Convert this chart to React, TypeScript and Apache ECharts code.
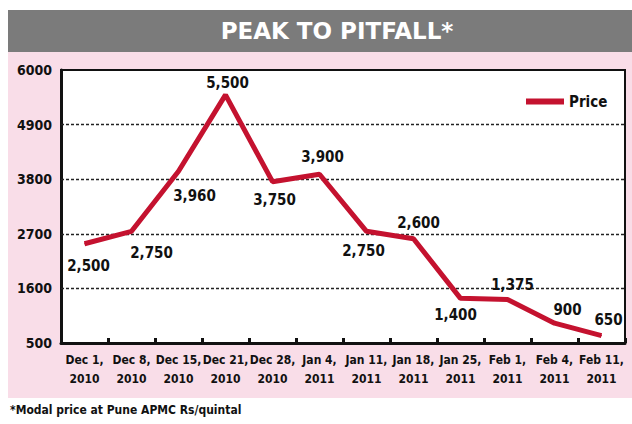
import React, { useEffect, useRef } from "react";
import * as echarts from "echarts";

const categories = [
  "Dec 1, 2010",
  "Dec 8, 2010",
  "Dec 15, 2010",
  "Dec 21, 2010",
  "Dec 28, 2010",
  "Jan 4, 2011",
  "Jan 11, 2011",
  "Jan 18, 2011",
  "Jan 25, 2011",
  "Feb 1, 2011",
  "Feb 4, 2011",
  "Feb 11, 2011",
];
const priceValues = [2500, 2750, 3960, 5500, 3750, 3900, 2750, 2600, 1400, 1375, 900, 650];
const yTickValues = [500, 1600, 2700, 3800, 4900, 6000];
const gridLineValues = [1600, 2700, 3800, 4900];
const titleText = "PEAK TO PITFALL*";
const footnoteText = "*Modal price at Pune APMC Rs/quintal";
const seriesName = "Price";

const FONT = "'DejaVu Sans Condensed', sans-serif";

// label placement per point (offsets in px)
const labelOffsets: [number, number][] = [
  [4, 22],
  [20, 22],
  [16, 25],
  [2, -12],
  [2, 18],
  [3, -17],
  [-3, 20],
  [5, -16],
  [-5, 17],
  [5, -15],
  [13, -13],
  [7, -16],
];

export default function App() {
  const ref = useRef<HTMLDivElement>(null);
  useEffect(() => {
    document.body.style.margin = "0";
    if (!ref.current) return;
    const chart = echarts.init(ref.current, undefined, { renderer: "svg" });
    const data = priceValues.map((v, i) => ({
      value: v,
      label: {
        show: true,
        position: "inside",
        offset: labelOffsets[i],
      },
    }));
    chart.setOption({
      animation: false,
      backgroundColor: "#ffffff",
      graphic: [
        {
          type: "rect",
          z: -10,
          shape: { x: 8, y: 52, width: 624, height: 346 },
          style: { fill: "#f9dde8" },
        },
        {
          type: "rect",
          z: -10,
          shape: { x: 8, y: 10, width: 624, height: 42 },
          style: { fill: "#7b7b7b" },
        },
        {
          type: "text",
          x: 337,
          y: 31,
          style: {
            text: titleText,
            fill: "#ffffff",
            font: `bold 23px 'DejaVu Sans', sans-serif`,
            align: "center",
            verticalAlign: "middle",
          },
        },
        {
          type: "text",
          x: 10,
          y: 410,
          style: {
            text: footnoteText,
            fill: "#111111",
            font: `bold 12px ${FONT}`,
            align: "left",
            verticalAlign: "middle",
          },
        },
      ],
      legend: {
        show: true,
        left: 521,
        top: 89,
        itemWidth: 38,
        itemHeight: 6,
        icon: "rect",
        itemGap: 6,
        textStyle: { fontFamily: FONT, fontSize: 15, color: "#111", fontWeight: "bold" },
        data: [seriesName],
      },
      grid: {
        left: 61,
        top: 70,
        right: 7,
        bottom: 81,
        show: true,
        backgroundColor: "#ffffff",
        borderColor: "#111111",
        borderWidth: 2,
      },
      xAxis: {
        type: "category",
        data: categories,
        boundaryGap: true,
        axisLine: { show: true, lineStyle: { color: "#111111", width: 3 } },
        axisTick: { show: true, inside: true, length: 5, lineStyle: { color: "#111111", width: 3 } },
        axisLabel: {
          interval: 0,
          fontFamily: FONT,
          fontSize: 12,
          fontWeight: "bold",
          color: "#111111",
          lineHeight: 19,
          margin: 7,
          formatter: (v: string) => v.replace(", ", ",\n"),
        },
        splitLine: { show: false },
      },
      yAxis: {
        type: "value",
        min: 500,
        max: 6000,
        axisLine: { show: true, lineStyle: { color: "#111111", width: 3 } },
        axisTick: { show: false, customValues: yTickValues },
        axisLabel: {
          customValues: yTickValues,
          fontFamily: FONT,
          fontSize: 14,
          fontWeight: "bold",
          color: "#111111",
          margin: 9,
          formatter: (v: number) => String(v),
        },
        splitLine: { show: false },
      },
      series: [
        {
          name: seriesName,
          type: "line",
          data,
          symbol: "circle",
          symbolSize: 1,
          showSymbol: true,
          itemStyle: { color: "#c4122f" },
          color: "#c4122f",
          lineStyle: { color: "#c4122f", width: 5 },
          label: {
            show: true,
            fontFamily: FONT,
            fontSize: 15,
            fontWeight: "bold",
            color: "#111111",
            formatter: (p: any) => Number(p.value).toLocaleString("en-US"),
          },
          markLine: {
            silent: true,
            symbol: "none",
            label: { show: false },
            lineStyle: { color: "#222222", type: [3, 2], width: 1.3 },
            data: gridLineValues.map((v) => ({ yAxis: v })),
            z: 1,
          },
          z: 3,
        },
      ],
    });
    return () => chart.dispose();
  }, []);
  return <div ref={ref} style={{ width: 632, height: 424 }} />;
}
